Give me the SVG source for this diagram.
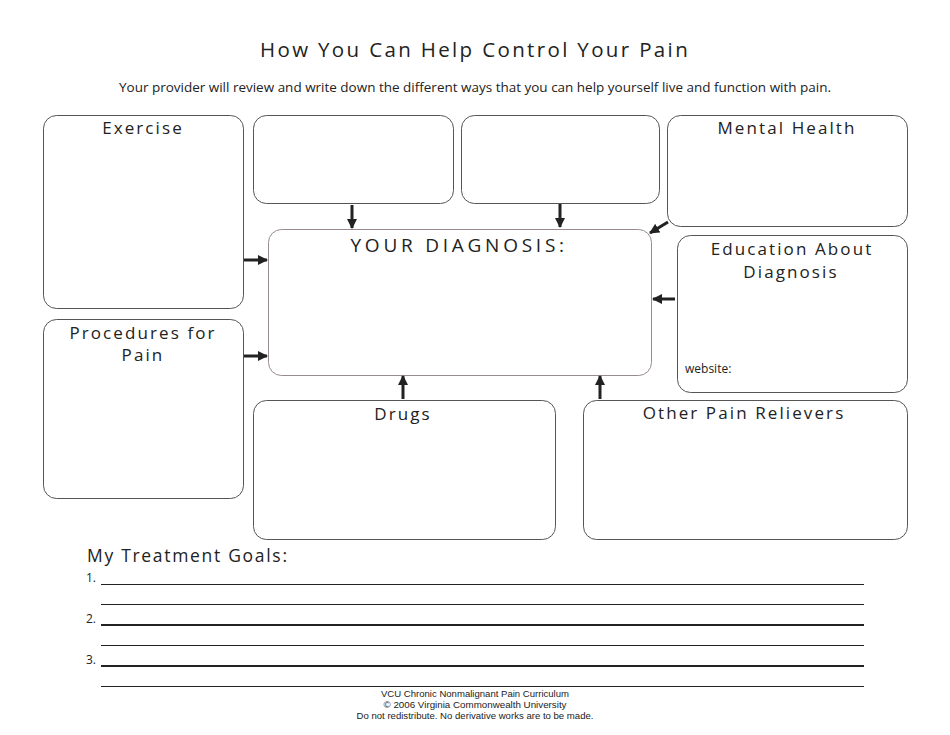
<svg xmlns="http://www.w3.org/2000/svg" width="950" height="735" viewBox="0 0 950 735">
<style>
.box{fill:#fff;stroke:#555;stroke-width:1}
.diag{fill:#fff;stroke:#9a8c8c;stroke-width:1}
.lbl{font-family:"Open Sans","Noto Sans",sans-serif;font-size:17px;letter-spacing:2.1px;fill:#222;text-anchor:middle}
.sm{font-family:"Open Sans","Noto Sans",sans-serif;font-size:12px;fill:#222}
.arr{stroke:#222;stroke-width:3;fill:none;marker-end:url(#ah)}
.ln{stroke:#222;stroke-width:1}
.lnb{stroke:#222;stroke-width:2}
.ft{font-family:"Liberation Sans",Arial,sans-serif;font-size:9px;fill:#222;text-anchor:middle}
</style>
<defs>
<marker id="ah" viewBox="0 0 10 10" refX="9" refY="5" markerWidth="3.4" markerHeight="3.4" orient="auto" markerUnits="strokeWidth">
<path d="M0,0 L10,5 L0,10 z" fill="#222"/>
</marker>
</defs>
<rect width="950" height="735" fill="#fff"/>
<text x="475" y="57" textLength="430" lengthAdjust="spacing" style="font-family:'Open Sans','Noto Sans',sans-serif;font-size:20.5px;letter-spacing:2.3px;fill:#222;text-anchor:middle">How You Can Help Control Your Pain</text>
<text x="475" y="92" textLength="712" lengthAdjust="spacingAndGlyphs" style="font-family:'Open Sans','Noto Sans',sans-serif;font-size:13px;fill:#222;text-anchor:middle">Your provider will review and write down the different ways that you can help yourself live and function with pain.</text>

<g id="exercise"><rect class="box" x="43.5" y="115.5" width="200" height="193" rx="13"/><text class="lbl" x="143" y="134">Exercise</text></g>
<g id="top2"><rect class="box" x="253.5" y="115.5" width="200" height="88" rx="13"/></g>
<g id="top3"><rect class="box" x="461.5" y="115.5" width="198" height="88" rx="13"/></g>
<g id="mental"><rect class="box" x="667.5" y="115.5" width="240" height="111" rx="13"/><text class="lbl" x="787" y="134">Mental Health</text></g>
<g id="diagnosis"><rect class="diag" x="268.5" y="229.5" width="383" height="146" rx="13"/><text class="lbl" x="459" y="252" textLength="217" lengthAdjust="spacing" style="font-size:19px;letter-spacing:3.4px">YOUR DIAGNOSIS:</text></g>
<g id="education"><rect class="box" x="677.5" y="235.5" width="230" height="157" rx="13"/><text class="lbl" x="792" y="255">Education About</text><text class="lbl" x="791" y="278">Diagnosis</text><text class="sm" x="685" y="373">website:</text></g>
<g id="procedures"><rect class="box" x="43.5" y="319.5" width="200" height="179" rx="13"/><text class="lbl" x="143" y="339">Procedures for</text><text class="lbl" x="143" y="361">Pain</text></g>
<g id="drugs"><rect class="box" x="253.5" y="400.5" width="302" height="139" rx="13"/><text class="lbl" x="403" y="420">Drugs</text></g>
<g id="other"><rect class="box" x="583.5" y="400.5" width="324" height="139" rx="13"/><text class="lbl" x="744" y="419">Other Pain Relievers</text></g>

<g id="connectors">
<line class="arr" x1="244" y1="260" x2="267" y2="260"/>
<line class="arr" x1="244" y1="356" x2="267" y2="356"/>
<line class="arr" x1="352" y1="205" x2="352" y2="228"/>
<line class="arr" x1="560" y1="204" x2="560" y2="227"/>
<line class="arr" x1="668" y1="222" x2="650" y2="233"/>
<line class="arr" x1="675" y1="299" x2="653" y2="299"/>
<line class="arr" x1="403" y1="399" x2="403" y2="376"/>
<line class="arr" x1="600" y1="399" x2="600" y2="376"/>
</g>

<g id="goals">
<text x="87" y="562" textLength="202" lengthAdjust="spacing" style="font-family:'Open Sans','Noto Sans',sans-serif;font-size:17.5px;letter-spacing:2px;fill:#222">My Treatment Goals:</text>
<text class="sm" x="86" y="582">1.</text>
<line class="ln" x1="101" y1="584.5" x2="864" y2="584.5"/>
<line class="ln" x1="101" y1="604.5" x2="864" y2="604.5"/>
<text class="sm" x="86" y="623">2.</text>
<line class="lnb" x1="101" y1="625" x2="864" y2="625"/>
<line class="ln" x1="101" y1="645.5" x2="864" y2="645.5"/>
<text class="sm" x="86" y="664">3.</text>
<line class="lnb" x1="101" y1="666" x2="864" y2="666"/>
<line class="ln" x1="101" y1="686.5" x2="864" y2="686.5"/>
</g>
<text class="ft" x="475" y="697" textLength="188" lengthAdjust="spacingAndGlyphs">VCU Chronic Nonmalignant Pain Curriculum</text>
<text class="ft" x="475" y="708" textLength="183" lengthAdjust="spacingAndGlyphs">© 2006 Virginia Commonwealth University</text>
<text class="ft" x="475" y="719" textLength="237" lengthAdjust="spacingAndGlyphs">Do not redistribute. No derivative works are to be made.</text>
</svg>
